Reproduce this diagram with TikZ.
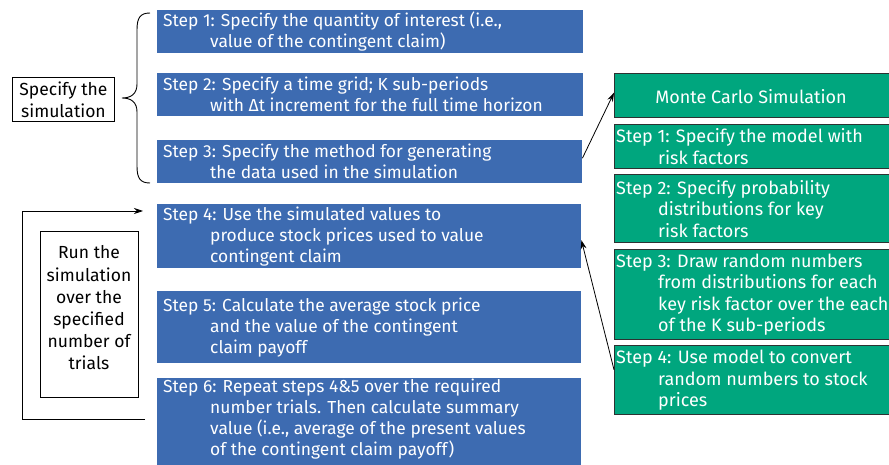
\documentclass[tikz,border=0pt]{standalone}
\usepackage{fontspec}
\setmainfont{Fira Sans}
\usetikzlibrary{arrows.meta}
\definecolor{stepblue}{RGB}{61,107,177}
\definecolor{stepgreen}{RGB}{0,166,126}
\definecolor{greenedge}{RGB}{45,50,50}
\tikzset{
  bluebox/.style={fill=stepblue, draw=none, inner sep=0pt, anchor=north west},
  greenbox/.style={fill=stepgreen, draw=greenedge, line width=1.4pt, inner sep=0pt, anchor=north west},
  bluetext/.style={text=white, align=left, inner sep=0pt, anchor=west, font=\fontsize{17.4}{21}\selectfont},
  greentext/.style={text=white, align=left, inner sep=0pt, anchor=west, font=\fontsize{18}{21.5}\selectfont},
  plainbox/.style={draw=black, line width=0.9pt, align=center, inner sep=0pt, font=\fontsize{17.5}{22.2}\selectfont},
  arr/.style={-{Stealth[length=9pt,width=6pt]}, line width=0.8pt},
}
\begin{document}
\begin{tikzpicture}[x=1pt,y=-1pt]
\useasboundingbox (0,0) rectangle (889,465);
% blue boxes
\node[bluebox, minimum width=426pt, minimum height=43pt] (b1) at (157,10) {};
\node[bluebox, minimum width=426pt, minimum height=43pt] (b2) at (157,73) {};
\node[bluebox, minimum width=425pt, minimum height=43pt] (b3) at (157,140) {};
\node[bluebox, minimum width=424pt, minimum height=64pt] (b4) at (157,204) {};
\node[bluebox, minimum width=424pt, minimum height=72pt] (b5) at (157,291) {};
\node[bluebox, minimum width=424pt, minimum height=90pt] (b6) at (157,378) {};
\node[bluetext] (t1) at ([xshift=6pt]b1.west) {Step 1: Specify the quantity of interest (i.e.,\\\hspace*{47pt}value of the contingent claim)};
\node[bluetext] (t2) at ([xshift=6pt]b2.west) {Step 2: Specify a time grid; K sub-periods\\\hspace*{47pt}with Δt increment for the full time horizon};
\node[bluetext] (t3) at ([xshift=6pt]b3.west) {Step 3: Specify the method for generating\\\hspace*{47pt}the data used in the simulation};
\node[bluetext] (t4) at ([xshift=6pt]b4.west) {Step 4: Use the simulated values to\\\hspace*{47pt}produce stock prices used to value\\\hspace*{47pt}contingent claim};
\node[bluetext] (t5) at ([xshift=6pt]b5.west) {Step 5: Calculate the average stock price\\\hspace*{47pt}and the value of the contingent\\\hspace*{47pt}claim payoff};
\node[bluetext, anchor=north west] (t6) at ([xshift=6pt,yshift=-1pt]b6.north west) {Step 6: Repeat steps 4\&5 over the required\\\hspace*{47pt}number trials. Then calculate summary\\\hspace*{47pt}value (i.e., average of the present values\\\hspace*{47pt}of the contingent claim payoff)};
% green boxes
\node[greenbox, minimum width=280pt, minimum height=44pt] (g0) at (614,73) {};
\node[greenbox, minimum width=280pt, minimum height=44pt] (g1) at (614,124) {};
\node[greenbox, minimum width=280pt, minimum height=68pt] (g2) at (614,174) {};
\node[greenbox, minimum width=280pt, minimum height=90pt] (g3) at (614,249) {};
\node[greenbox, minimum width=280pt, minimum height=69pt] (g4) at (614,345) {};
\node[greentext, anchor=center] (tg0) at (751,97) {Monte Carlo Simulation};
\node[greentext] (tg1) at ([xshift=2pt]g1.west) {Step 1: Specify the model with\\\hspace*{42pt}risk factors};
\node[greentext] (tg2) at ([xshift=2pt]g2.west) {Step 2: Specify probability\\\hspace*{42pt}distributions for key\\\hspace*{42pt}risk factors};
\node[greentext] (tg3) at ([xshift=2pt]g3.west) {Step 3: Draw random numbers\\\hspace*{42pt}from distributions for each\\\hspace*{42pt}key risk factor over the each\\\hspace*{42pt}of the K sub-periods};
\node[greentext] (tg4) at ([xshift=2pt]g4.west) {Step 4: Use model to convert\\\hspace*{42pt}random numbers to stock\\\hspace*{42pt}prices};
% left boxes
\node[plainbox, minimum width=102pt, minimum height=44pt, anchor=north west] (spec) at (12,77) {Specify the\\simulation};
\node[plainbox, minimum width=98pt, minimum height=166pt, anchor=north west] (run) at (40,231) {};
\node[align=center, inner sep=0pt, font=\fontsize{17.5}{22.2}\selectfont] (runt) at (89,308) {Run the\\simulation\\over the\\specified\\number of\\trials};
% brace
\coordinate (brtop) at (150,13);
\coordinate (brtip) at (122,98);
\coordinate (brbot) at (150,183);
\draw[line width=0.9pt] (brtop) .. controls (140,13) and (137,18) .. (137,30) -- (137,84)
  .. controls (137,94) and (131,98) .. (brtip)
  .. controls (131,98) and (137,102) .. (137,112) -- (137,166)
  .. controls (137,178) and (140,183) .. (brbot);
% loop
\coordinate (loopS) at (145,419);
\coordinate (loopE) at (143,211);
\draw[arr] (loopS) -- (22,419) -- (22,211) -- (loopE);
% arrows to/from Monte Carlo
\draw[arr] ([yshift=3.5pt]b3.east) -- ([yshift=3pt]g0.west);
\draw[arr] ([yshift=10.5pt]g4.west) -- ([yshift=-4pt]b4.east);
\end{tikzpicture}
\end{document}
